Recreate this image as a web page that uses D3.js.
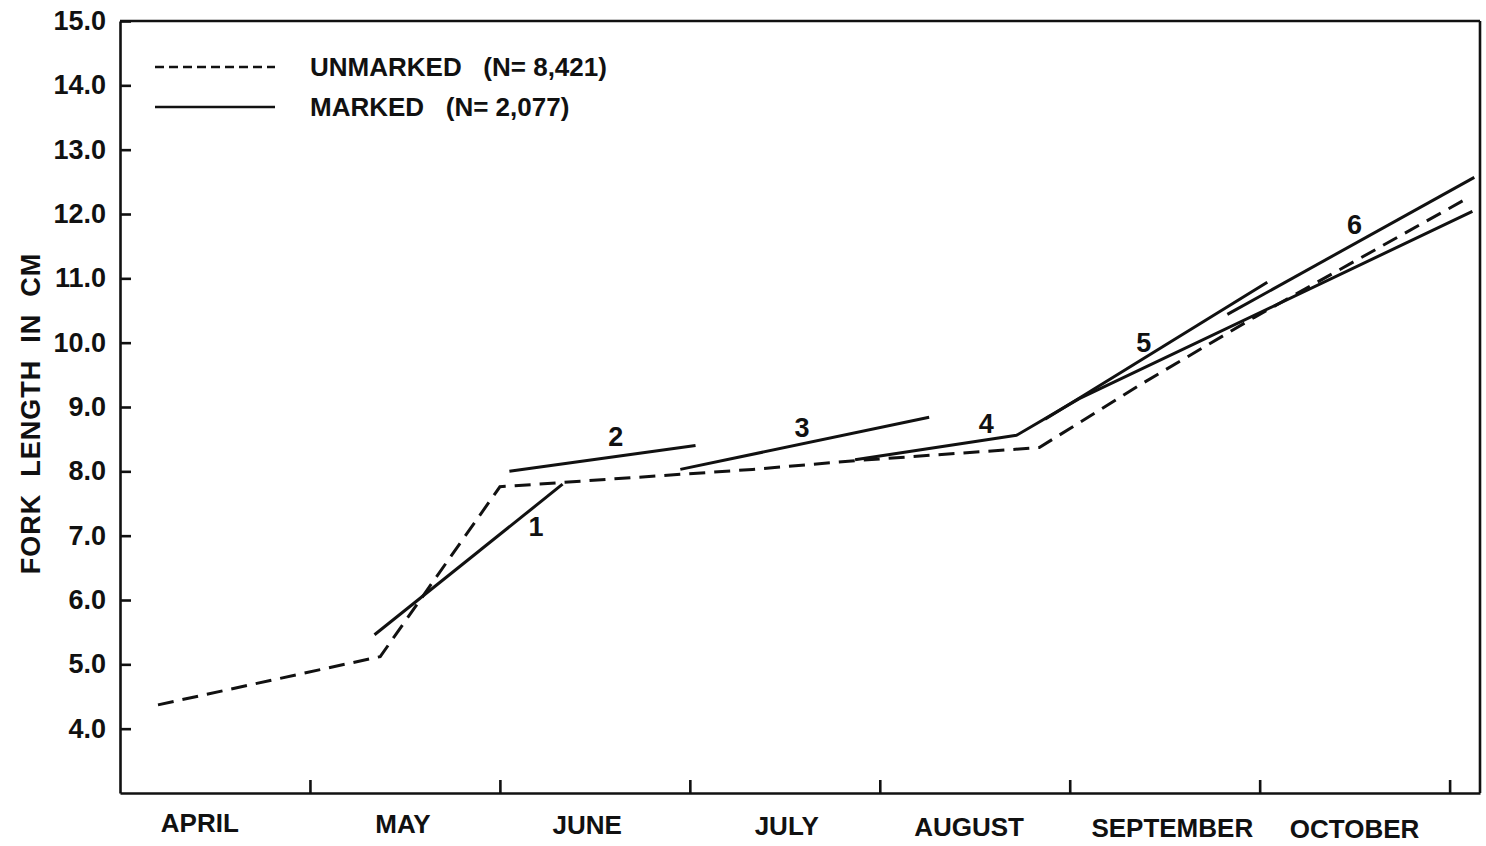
<!DOCTYPE html>
<html>
<head>
<meta charset="utf-8">
<script src="https://cdn.jsdelivr.net/npm/d3@7"></script>
<style>
  body { margin: 0; background: #fff; }
  text { font-family: "Liberation Sans", Arial, sans-serif; font-weight: bold; fill: #111; }
</style>
</head>
<body>
<div id="chart"></div>
<script>
// months on x, in month units from 1 April (0 = start of April)
var months = ["APRIL", "MAY", "JUNE", "JULY", "AUGUST", "SEPTEMBER", "OCTOBER"];
var monthLabelPos = [0.42, 1.49, 2.46, 3.51, 4.47, 5.54, 6.50];
var yTicks = [4, 5, 6, 7, 8, 9, 10, 11, 12, 13, 14, 15];

// unmarked fish, mean fork length (cm)
var unmarkedTime   = [0.20, 1.37, 2.00, 2.34, 3.33, 3.89, 4.84, 5.39, 5.97, 7.09];
var unmarkedLength = [4.37, 5.12, 7.76, 7.83, 8.03, 8.17, 8.37, 9.38, 10.39, 12.24];

// marked fish, one line per release group (1-6)
var markedTime = [
  [1.34, 2.33],
  [2.05, 3.03],
  [2.95, 4.26],
  [3.87, 4.72, 5.05, 7.12],
  [4.87, 6.04],
  [5.83, 7.13]
];
var markedLength = [
  [5.46, 7.80],
  [8.00, 8.40],
  [8.03, 8.84],
  [8.18, 8.56, 9.13, 12.04],
  [8.81, 10.94],
  [10.44, 12.57]
];
var groupNames = ["1", "2", "3", "4", "5", "6"];
var groupLabelTime   = [2.19, 2.61, 3.59, 4.56, 5.39, 6.50];
var groupLabelLength = [7.14, 8.54, 8.68, 8.74, 10.00, 11.84];

var legendNames = ["UNMARKED   (N= 8,421)", "MARKED   (N= 2,077)"];

var width = 1486, height = 846;
var svg = d3.select("#chart").append("svg")
    .attr("width", width)
    .attr("height", height);

var x = d3.scaleLinear().domain([0, 7.16]).range([120, 1480]);
var y = d3.scaleLinear().domain([3, 15]).range([793, 21]);

// ---- axes ----
var yAxis = d3.axisLeft(y)
    .tickValues(yTicks)
    .tickFormat(d3.format(".1f"))
    .tickSizeInner(-11)
    .tickSizeOuter(0)
    .tickPadding(14);

var gy = svg.append("g")
    .attr("transform", "translate(" + x(0) + ",0)")
    .call(yAxis);
gy.selectAll("path, line").attr("stroke", "#111").attr("stroke-width", 2.6);
gy.selectAll("text").style("font-size", "27px").attr("fill", "#111");

var xAxis = d3.axisBottom(x)
    .tickValues(d3.range(1, months.length + 1))
    .tickFormat("")
    .tickSizeInner(-13)
    .tickSizeOuter(0);

var gx = svg.append("g")
    .attr("transform", "translate(0," + y(3) + ")")
    .call(xAxis);
gx.selectAll("path, line").attr("stroke", "#111").attr("stroke-width", 2.6);

// frame top and right
svg.append("line")
    .attr("x1", x(0)).attr("x2", x(7.16))
    .attr("y1", y(15)).attr("y2", y(15))
    .attr("stroke", "#111").attr("stroke-width", 2.6);
svg.append("line")
    .attr("x1", x(7.16)).attr("x2", x(7.16))
    .attr("y1", y(15)).attr("y2", y(3))
    .attr("stroke", "#111").attr("stroke-width", 2.6);

// month labels
svg.append("g").selectAll("text")
    .data(months)
    .enter().append("text")
    .attr("x", function(d, i) { return x(monthLabelPos[i]); })
    .attr("y", function(d, i) { return 832 + i; })
    .attr("text-anchor", "middle")
    .style("font-size", "26px")
    .text(function(d) { return d; });

// y title
svg.append("text")
    .attr("transform", "translate(40," + y(8.9) + ") rotate(-90)")
    .attr("text-anchor", "middle")
    .style("font-size", "27px")
    .style("letter-spacing", "1px")
    .style("white-space", "pre")
    .text("FORK  LENGTH  IN  CM");

// ---- lines ----
var line = d3.line()
    .x(function(d) { return x(d[0]); })
    .y(function(d) { return y(d[1]); });

svg.append("path")
    .attr("d", line(d3.zip(unmarkedTime, unmarkedLength)))
    .attr("fill", "none")
    .attr("stroke", "#111")
    .attr("stroke-width", 3)
    .attr("stroke-dasharray", "16,9");

svg.append("g").selectAll("path")
    .data(markedTime)
    .enter().append("path")
    .attr("d", function(d, i) { return line(d3.zip(d, markedLength[i])); })
    .attr("fill", "none")
    .attr("stroke", "#111")
    .attr("stroke-width", 3)
    .attr("stroke-linejoin", "round");

svg.append("g").selectAll("text")
    .data(groupNames)
    .enter().append("text")
    .attr("x", function(d, i) { return x(groupLabelTime[i]); })
    .attr("y", function(d, i) { return y(groupLabelLength[i]); })
    .attr("dy", "0.36em")
    .attr("text-anchor", "middle")
    .style("font-size", "27px")
    .text(function(d) { return d; });

// ---- legend ----
var legend = svg.append("g").selectAll("g")
    .data(legendNames)
    .enter().append("g")
    .attr("transform", function(d, i) { return "translate(155," + (67 + i * 40) + ")"; });

legend.append("line")
    .attr("x1", 0).attr("x2", 120)
    .attr("stroke", "#111")
    .attr("stroke-width", 2.6)
    .attr("stroke-dasharray", function(d, i) { return i === 0 ? "9,5" : null; });

legend.append("text")
    .attr("x", 155)
    .attr("dy", "0.36em")
    .style("font-size", "26px")
    .style("white-space", "pre")
    .text(function(d) { return d; });
</script>
</body>
</html>
